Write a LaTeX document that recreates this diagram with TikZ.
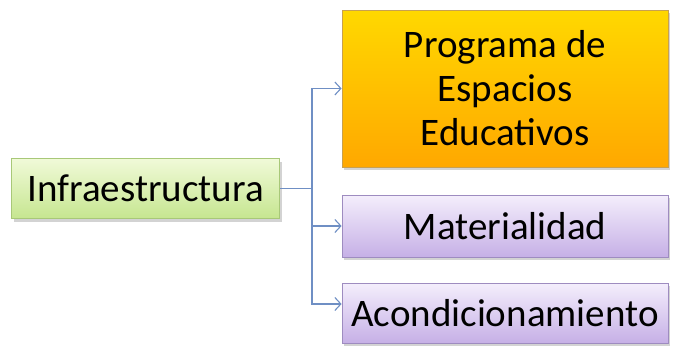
\documentclass[tikz,border=0pt]{standalone}
\usepackage{fontspec}
\setmainfont{Carlito}
\usetikzlibrary{shadows, arrows.meta}

\definecolor{linea}{HTML}{6F8FC4}
\definecolor{verdeA}{HTML}{F0FAD8}
\definecolor{verdeB}{HTML}{C6E690}
\definecolor{verdeL}{HTML}{A8C878}
\definecolor{amarA}{HTML}{FFD800}
\definecolor{amarB}{HTML}{FFA800}
\definecolor{amarL}{HTML}{C8A050}
\definecolor{lilaA}{HTML}{F4EEFC}
\definecolor{lilaB}{HTML}{C6B0E6}
\definecolor{lilaL}{HTML}{9E8CC0}

\begin{document}
\begin{tikzpicture}[x=1pt, y=-1pt,
    caja/.style={draw, line width=0.8pt, font=\fontsize{39}{44}\selectfont, align=center,
        inner sep=0pt, drop shadow={shadow xshift=2pt, shadow yshift=-3pt, opacity=0.35}},
    raiz/.style={caja, draw=verdeL, top color=verdeA, bottom color=verdeB},
    amarillo/.style={caja, draw=amarL, top color=amarA, bottom color=amarB},
    lila/.style={caja, draw=lilaL, top color=lilaA, bottom color=lilaB},
    conector/.style={draw=linea, line width=1.4pt, -{Straight Barb[length=6pt, width=13pt, line width=1.1pt]}}]
    \useasboundingbox (0,0) rectangle (675,348);

    % Draw nodes
    \node[raiz, minimum width=268pt, minimum height=60pt] (infra) at (145.5,188.5) {Infraestructura};
    \node[amarillo, minimum width=326pt, minimum height=157pt] (prog) at (505,88.5) {Programa de\\Espacios\\Educativos};
    \node[lila, minimum width=326pt, minimum height=62pt] (mat) at (505,226) {Materialidad};
    \node[lila, minimum width=326pt, minimum height=60pt] (acond) at (505,313) {Acondicionamiento};
    \coordinate (split) at (312,188.5);

    % Draw connections
    \draw[draw=linea, line width=1.4pt] (infra.east) -- (split);
    \draw[conector] (split) |- (prog.west);
    \draw[conector] (split) |- (mat.west);
    \draw[conector] (split) |- ([yshift=9pt]acond.west);
\end{tikzpicture}
\end{document}
